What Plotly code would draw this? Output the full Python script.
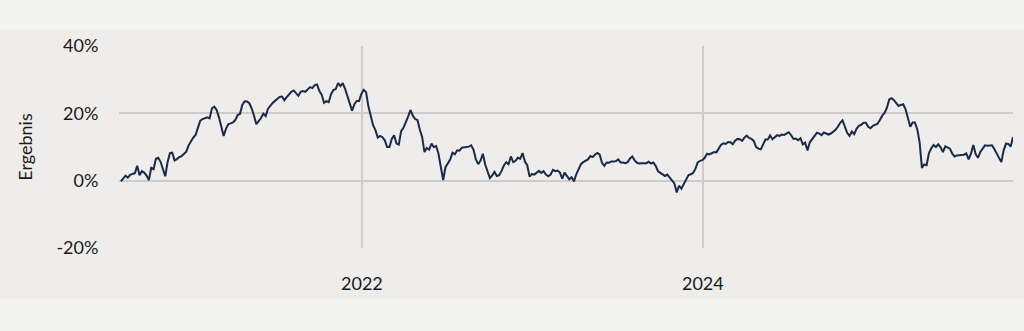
import pandas as pd
import plotly.graph_objects as go

# Cumulative return (%), 5-day sampling from 2020-08-03
start_date = "2020-08-03"
step = "5D"

seg_2020_21 = [-0.2, 0.6, 1.5, 0.9, 1.7, 2.0, 2.2, 4.4, 1.6, 2.8, 2.4, 1.5, 0.2, 3.8, 3.4, 6.5, 6.8, 5.6,
               3.5, 1.3, 5.5, 8.2, 8.3, 6.0, 6.4, 7.0, 7.3, 8.0, 8.6, 10.5, 11.8, 12.8, 13.6, 15.8, 17.8,
               18.3, 18.6, 18.8, 18.5, 21.5, 22.0, 21.0, 18.8, 15.8, 13.3, 15.4, 16.8, 17.0, 17.3, 18.0,
               19.5, 19.8, 22.5, 23.6]
seg_2021_22 = [23.5, 23.0, 21.5, 19.3, 16.8, 17.7, 18.6, 19.9, 19.2, 21.4, 22.4, 23.1, 23.7, 24.3, 24.9,
               25.0, 23.9, 24.8, 25.7, 26.4, 26.8, 26.0, 25.2, 26.4, 26.6, 26.4, 27.2, 27.8, 27.5, 28.4,
               28.6, 26.6, 25.5, 23.1, 23.6, 23.3, 25.7, 26.9, 27.2, 29.0, 28.1, 29.0, 27.3, 25.3, 23.2,
               20.8, 22.7, 23.7, 23.7, 25.8, 27.0, 26.3, 22.0, 19.4, 16.5]
seg_2022 = [15.0, 12.8, 13.3, 12.9, 12.0, 10.0, 10.0, 12.4, 13.5, 11.0, 10.7, 14.7, 15.7, 17.2, 19.0, 21.0,
            19.3, 18.3, 18.0, 15.2, 13.0, 8.5, 9.7, 9.2, 11.0, 10.0, 10.3, 8.0, 4.2, 0.2, 4.0, 5.3, 6.3,
            8.3, 7.8, 9.0, 8.9, 9.8, 9.9, 10.2, 10.1, 10.5, 9.2, 6.3, 4.9, 6.0, 8.0, 4.8, 2.6, 0.8, 1.6,
            2.6, 1.4, 1.6, 2.9, 4.5]
seg_2023a = [5.5, 4.9, 7.2, 5.5, 5.9, 6.8, 6.5, 8.2, 5.7, 4.6, 1.2, 2.0, 1.8, 2.5, 2.9, 2.3, 2.8, 1.8, 1.3,
             1.8, 3.2, 2.8, 3.0, 2.4, 0.6, 2.4, 1.2, 0.4, 1.0, -0.2, 1.9, 3.3, 4.9, 5.5, 6.0, 6.3, 7.3,
             7.0, 7.7, 8.2, 7.8, 5.3, 4.4, 5.4, 5.3, 5.7, 5.7, 5.8, 6.3, 5.4, 5.4, 5.2, 5.5, 6.6, 7.2, 6.0]
seg_2023b = [5.3, 5.1, 5.2, 5.2, 5.2, 5.6, 5.1, 5.4, 4.4, 2.8, 2.3, 1.8, 1.4, 1.8, 0.9, 0.0, -0.8, -3.5,
             -1.5, -2.4, -0.9, 0.6, 1.6, 1.9, 2.3, 3.5, 5.4, 5.9, 6.1, 6.8, 8.0, 7.8, 8.2, 8.5, 8.4, 9.5,
             10.7, 11.1, 10.9, 11.5, 11.4, 10.8, 11.9, 12.4, 12.3, 11.8, 12.8, 13.4, 12.7, 12.4, 11.8,
             10.0, 9.5, 9.3, 10.7, 12.2]
seg_2024 = [12.2, 13.4, 12.3, 12.8, 13.5, 13.3, 13.7, 13.6, 14.0, 14.4, 13.5, 12.4, 12.5, 12.0, 12.6, 10.8,
            11.3, 9.0, 11.4, 12.3, 13.0, 14.2, 14.0, 13.5, 14.3, 14.1, 13.7, 14.0, 14.5, 15.1, 16.0, 17.2,
            17.9, 16.2, 14.2, 13.3, 14.6, 13.8, 15.4, 16.3, 16.6, 17.2, 17.2, 16.0, 15.6, 16.3, 16.5,
            16.9, 18.0, 19.3, 20.1, 21.6, 24.1, 24.5, 23.9]
seg_2025 = [23.2, 22.2, 22.5, 22.7, 21.2, 18.7, 16.0, 17.3, 17.3, 15.3, 11.5, 3.8, 4.8, 4.6, 8.1, 9.6, 10.6,
            10.0, 10.8, 9.9, 8.5, 10.2, 9.8, 9.5, 8.0, 7.2, 7.5, 7.5, 7.7, 7.7, 8.1, 6.3, 8.0, 10.6, 7.9,
            6.8, 8.5, 9.7, 10.5, 10.4, 10.4, 10.5, 9.4, 8.1, 7.0, 5.5, 9.0, 11.0, 10.9, 10.1, 13.0]

values = seg_2020_21 + seg_2021_22 + seg_2022 + seg_2023a + seg_2023b + seg_2024 + seg_2025
dates = pd.date_range(start_date, periods=len(values), freq=step)

y_ticks = [-20, 0, 20, 40]
y_tick_labels = ["-20%", "0%", "20%", "40%"]
x_ticks = ["2022-01-01", "2024-01-01"]
x_tick_labels = ["2022", "2024"]

FONT = "Lato, Inter, sans-serif"
TEXT = "#1a1a1a"
MAIN_BG = "#eeedeb"
BAND_BG = "#f3f3f2"
GRID = "#cdcccb"

fig = go.Figure()
fig.add_trace(go.Scatter(
    x=dates, y=values, mode="lines",
    line=dict(color="#1b2a47", width=2),
    hoverinfo="skip", showlegend=False,
))

fig.update_layout(
    width=1024, height=331,
    margin=dict(l=119, r=11, t=46, b=83),
    paper_bgcolor=MAIN_BG, plot_bgcolor=MAIN_BG,
    font=dict(family=FONT, size=18, color=TEXT),
    shapes=[
        dict(type="rect", xref="paper", yref="paper", x0=-0.2, x1=1.1,
             y0=1 + 16 / 202, y1=1.5, fillcolor=BAND_BG, line=dict(width=0), layer="below"),
        dict(type="rect", xref="paper", yref="paper", x0=-0.2, x1=1.1,
             y0=-0.6, y1=-51 / 202, fillcolor=BAND_BG, line=dict(width=0), layer="below"),
    ],
)

fig.update_xaxes(
    type="date", range=["2020-07-30", "2025-10-26"],
    tickvals=x_ticks, ticktext=x_tick_labels,
    showgrid=True, gridcolor=GRID, gridwidth=1.5,
    ticks="outside", ticklen=19, tickcolor="rgba(0,0,0,0)",
    showline=False, zeroline=False,
    tickfont=dict(size=18, color=TEXT),
)
fig.update_yaxes(
    range=[-20, 40],
    tickvals=y_ticks, ticktext=y_tick_labels,
    showgrid=True, gridcolor=GRID, gridwidth=1.5,
    ticks="outside", ticklen=16, tickcolor="rgba(0,0,0,0)",
    showline=False, zeroline=False,
    tickfont=dict(size=18, color=TEXT),
    title=dict(text="Ergebnis", font=dict(size=18, color=TEXT), standoff=19),
)

fig.write_html("out.html")
